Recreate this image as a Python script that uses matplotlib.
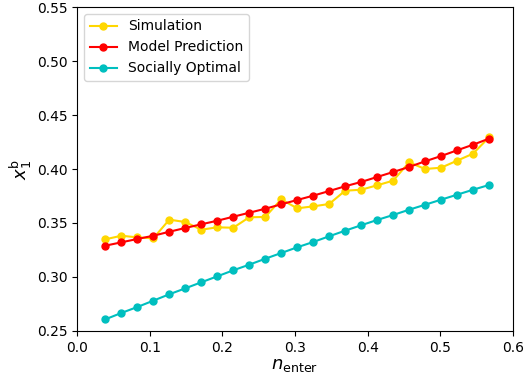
import numpy as np
import matplotlib
matplotlib.use('Agg')
import matplotlib.pyplot as plt

# values
n_enter = [0.039, 0.061, 0.083, 0.105, 0.127, 0.149, 0.171, 0.193, 0.215,
           0.237, 0.259, 0.281, 0.303, 0.325, 0.347, 0.369, 0.391, 0.413,
           0.435, 0.457, 0.479, 0.501, 0.523, 0.545, 0.567]

simulation = [0.3349, 0.3382, 0.3367, 0.3358, 0.3531, 0.3509, 0.3438, 0.3460,
              0.3456, 0.3553, 0.3556, 0.3719, 0.3636, 0.3654, 0.3676, 0.3799,
              0.3808, 0.3849, 0.3892, 0.4062, 0.4000, 0.4012, 0.4077, 0.4142,
              0.4293]

model = [0.3290, 0.3321, 0.3352, 0.3382, 0.3419, 0.3454, 0.3488, 0.3521,
         0.3558, 0.3595, 0.3632, 0.3673, 0.3713, 0.3753, 0.3796, 0.3840,
         0.3880, 0.3926, 0.3972, 0.4019, 0.4071, 0.4120, 0.4173, 0.4225,
         0.4281]

optimal = [0.2608, 0.2667, 0.2722, 0.2781, 0.2840, 0.2895, 0.2951, 0.3006,
           0.3062, 0.3114, 0.3169, 0.3222, 0.3275, 0.3324, 0.3377, 0.3429,
           0.3479, 0.3528, 0.3574, 0.3623, 0.3669, 0.3716, 0.3762, 0.3808,
           0.3852]

fig = plt.figure(figsize=(5.32, 3.79), dpi=100)
ax = fig.add_axes([77/532, 1 - 331/379, 436/532, 324/379])

ax.plot(n_enter, simulation, '-o', color='#FFD700', markersize=5, label='Simulation')
ax.plot(n_enter, model, '-o', color='red', markersize=5, label='Model Prediction')
ax.plot(n_enter, optimal, '-o', color='#00BFBF', markersize=5, label='Socially Optimal')

ax.set_xlim(0, 0.6)
ax.set_ylim(0.25, 0.55)
ax.set_xticks(np.arange(0, 0.61, 0.1))
ax.set_yticks(np.arange(0.25, 0.551, 0.05))
ax.tick_params(labelsize=10)
ax.set_xlabel(r'$n_{\mathrm{enter}}$', fontsize=13, labelpad=1)
ax.set_ylabel(r'$x_1^{\mathrm{b}}$', fontsize=13, labelpad=2)
ax.legend(loc='upper left', fontsize=10)

fig.savefig('out.png', dpi=100)
